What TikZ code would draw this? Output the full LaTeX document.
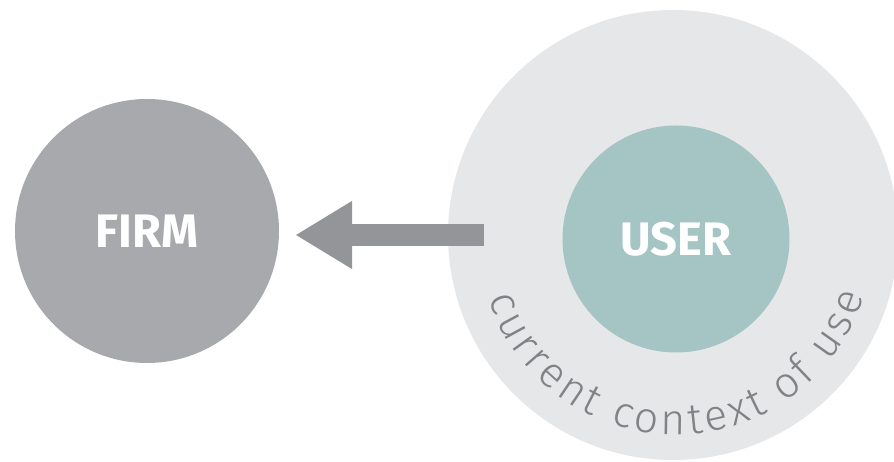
\documentclass[tikz,border=0pt]{standalone}
\usepackage{fontspec}
\setmainfont{Fira Sans}
\newfontfamily\ctxfam{Fira Sans}[UprightFont={* Light}]
\usetikzlibrary{decorations.text,arrows.meta}
\definecolor{firmgray}{HTML}{A7A9AC}
\definecolor{ctxbg}{HTML}{E6E7E8}
\definecolor{userteal}{HTML}{A5C5C4}
\definecolor{arrowgray}{HTML}{939598}
\definecolor{ctxtext}{HTML}{808285}
\newcommand{\ctxfont}{\ctxfam\fontsize{43}{48}\selectfont}
\tikzset{
  blob/.style={circle, inner sep=0pt, draw=none, text=white,
    font=\fontsize{47}{52}\selectfont\bfseries},
  bigarrow/.style={draw=arrowgray, line width=22pt,
    -{Triangle[length=57pt, width=64pt, fill=arrowgray]}, shorten >=16pt}
}
\begin{document}
\begin{tikzpicture}[x=1pt,y=1pt]
\useasboundingbox (0,0) rectangle (894,462);
\clip (0,0) rectangle (894,462);
\node[blob, fill=ctxbg, minimum size=450pt] (ctx) at (673,227) {};
\node[blob, fill=userteal, minimum size=227pt] (user) at (676,223) {USER};
\node[blob, fill=firmgray, minimum size=264pt] (firm) at (147,231) {FIRM};
\coordinate (src) at (484,227);
\coordinate (firmtip) at (firm.east |- src);
\draw[bigarrow] (src) -- (firmtip);
\path[decorate, decoration={text along path,
   text={|\ctxfont\color{ctxtext}|current context of use},
   text align=fit to path}]
   (676,224) ++(198:197) arc[start angle=198, end angle=343, radius=197];
\end{tikzpicture}
\end{document}
